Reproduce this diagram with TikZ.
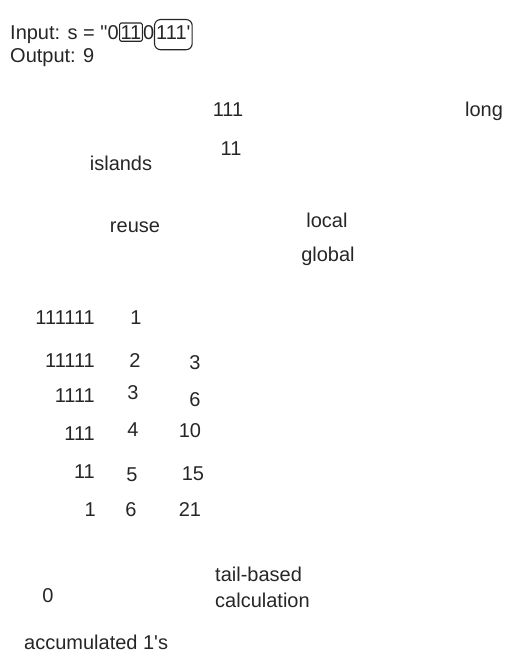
\documentclass[tikz,border=0pt]{standalone}
\usepackage{fontspec}
\setmainfont{Liberation Sans}[Ligatures=TeXOff]
\usetikzlibrary{fit}
\begin{document}
\begin{tikzpicture}[x=1pt,y=-1pt,
  txt/.style={inner sep=0pt, font=\fontsize{20}{24}\selectfont, text=black!85},
  hlbox/.style={draw=black!85, line width=1.1pt}]
\useasboundingbox (0,0) rectangle (513,665);
% header
\node[txt, anchor=base west] (in1) at (10,39) {Input: s = "0};
\node[txt, anchor=base west] (in2) at ([xshift=1.5pt]in1.base east) {11};
\node[txt, anchor=base west] (in3) at ([xshift=1.5pt]in2.base east) {0};
\node[txt, anchor=base west] (in4) at ([xshift=1.5pt]in3.base east) {111'};
\node[hlbox, rounded corners=1.5pt, inner xsep=0.8pt, inner ysep=2pt, fit=(in2)] (box1) {};
\node[hlbox, rounded corners=6pt, inner xsep=1.5pt, inner ysep=8pt, yshift=-2.5pt, fit=(in4)] (box2) {};
\node[txt, anchor=base west] (out) at (10,62) {Output: 9};
% scattered labels
\node[txt] (t111) at (228,110) {111};
\node[txt] (tlong) at (484,111) {long};
\node[txt] (t11) at (231,149) {11};
\node[txt] (tislands) at (121,163) {islands};
\node[txt] (treuse) at (135,227) {reuse};
\node[txt] (tlocal) at (327,220) {local};
\node[txt] (tglobal) at (328,256) {global};
% table
\node[txt, anchor=east] (r1a) at (95,318) {111111};
\node[txt] (r1b) at (136,318) {1};
\node[txt, anchor=east] (r2a) at (95,361) {11111};
\node[txt] (r2b) at (135,361) {2};
\node[txt] (r2c) at (195,363) {3};
\node[txt, anchor=east] (r3a) at (95,396) {1111};
\node[txt] (r3b) at (133,393) {3};
\node[txt] (r3c) at (195,400) {6};
\node[txt, anchor=east] (r4a) at (95,434) {111};
\node[txt] (r4b) at (133,430) {4};
\node[txt] (r4c) at (190,431) {10};
\node[txt, anchor=east] (r5a) at (95,472) {11};
\node[txt] (r5b) at (132,475) {5};
\node[txt] (r5c) at (193,474) {15};
\node[txt, anchor=east] (r6a) at (96,510) {1};
\node[txt] (r6b) at (131,510) {6};
\node[txt] (r6c) at (190,510) {21};
% bottom
\node[txt, anchor=west] (ttail) at (215,574) {tail-based};
\node[txt, anchor=west] (tcalc) at (215,600) {calculation};
\node[txt] (tzero) at (48,596) {0};
\node[txt, anchor=west] (tacc) at (24,642) {accumulated 1's};
\end{tikzpicture}
\end{document}
